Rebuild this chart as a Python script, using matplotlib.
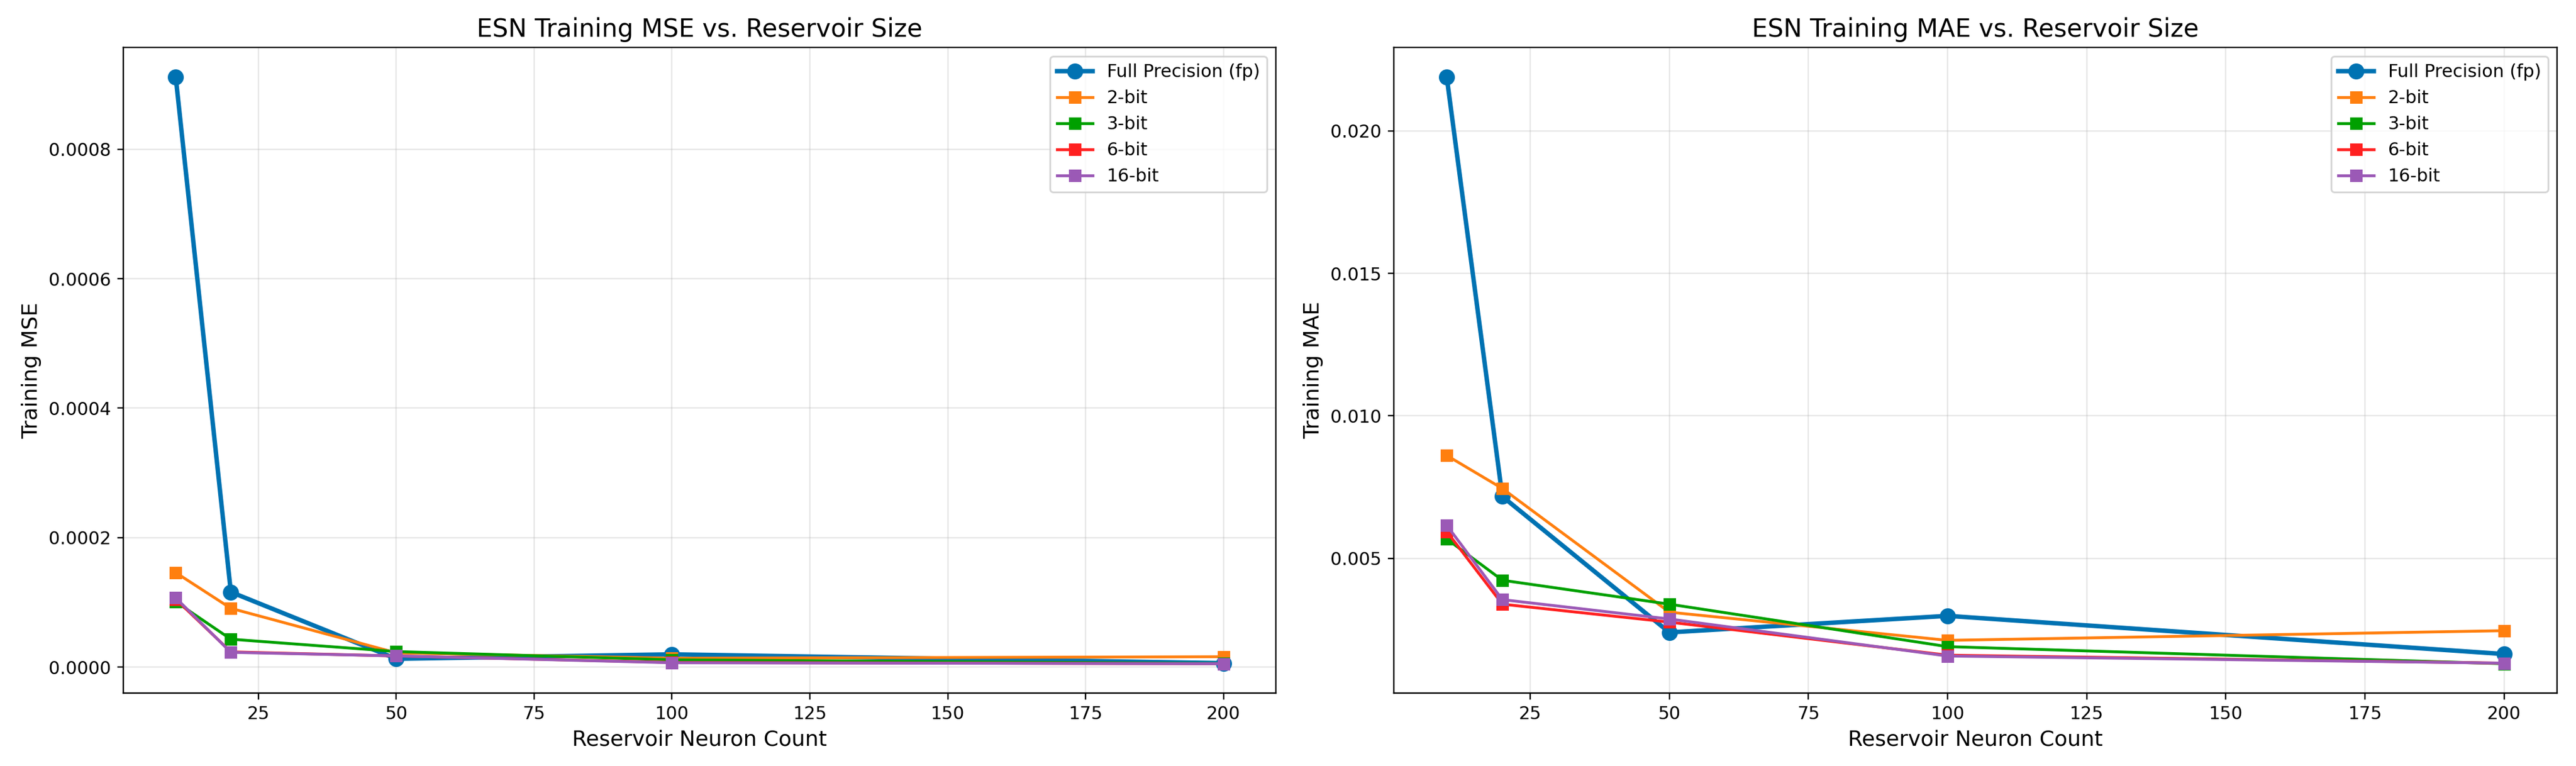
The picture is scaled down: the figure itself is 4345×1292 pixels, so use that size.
import matplotlib
matplotlib.use("Agg")
import matplotlib.pyplot as plt

# reservoir sizes
neurons = [10, 20, 50, 100, 200]

# training MSE per quantisation level
mse_fp = [0.000912, 0.000116, 0.0000128, 0.0000197, 0.0000061]
mse_2bit = [0.000146, 0.0000908, 0.000022, 0.0000137, 0.000016]
mse_3bit = [0.000101, 0.0000431, 0.000024, 0.0000112, 0.0000055]
mse_6bit = [0.000105, 0.0000235, 0.0000172, 0.0000072, 0.0000052]
mse_16bit = [0.000107, 0.0000228, 0.0000173, 0.0000067, 0.0000052]

# training MAE per quantisation level
mae_fp = [0.0219, 0.00717, 0.0024, 0.00298, 0.00164]
mae_2bit = [0.00861, 0.00745, 0.00311, 0.00212, 0.00246]
mae_3bit = [0.00568, 0.00423, 0.00339, 0.0019, 0.0013]
mae_6bit = [0.00594, 0.00339, 0.00276, 0.0016, 0.00132]
mae_16bit = [0.00616, 0.00355, 0.00287, 0.00157, 0.00132]

labels = ["Full Precision (fp)", "2-bit", "3-bit", "6-bit", "16-bit"]
colors = ["#0072B2", "#FF7F0E", "#00A000", "#FF2020", "#9B59B6"]

W, H = 4345, 1292
fig, (ax1, ax2) = plt.subplots(1, 2, figsize=(W / 216, H / 216), dpi=216)

def draw(ax, series, ylabel, title):
    for i, (vals, lab, col) in enumerate(zip(series, labels, colors)):
        if i == 0:
            ax.plot(neurons, vals, marker="o", color=col, label=lab, linewidth=2.5, markersize=8)
        else:
            ax.plot(neurons, vals, marker="s", color=col, label=lab, linewidth=1.6, markersize=6)
    ax.set_xlabel("Reservoir Neuron Count", fontsize=12)
    ax.set_ylabel(ylabel, fontsize=12)
    ax.set_title(title, fontsize=14)
    ax.grid(True, alpha=0.3)
    ax.legend(loc="upper right")

draw(ax1, [mse_fp, mse_2bit, mse_3bit, mse_6bit, mse_16bit], "Training MSE",
     "ESN Training MSE vs. Reservoir Size")
draw(ax2, [mae_fp, mae_2bit, mae_3bit, mae_6bit, mae_16bit], "Training MAE",
     "ESN Training MAE vs. Reservoir Size")

bottom = 1 - 1169 / H
height = (1169 - 80) / H
ax1.set_position([208 / W, bottom, (2152 - 208) / W, height])
ax2.set_position([2351 / W, bottom, (4313 - 2351) / W, height])

fig.savefig("out.png", dpi=216)
